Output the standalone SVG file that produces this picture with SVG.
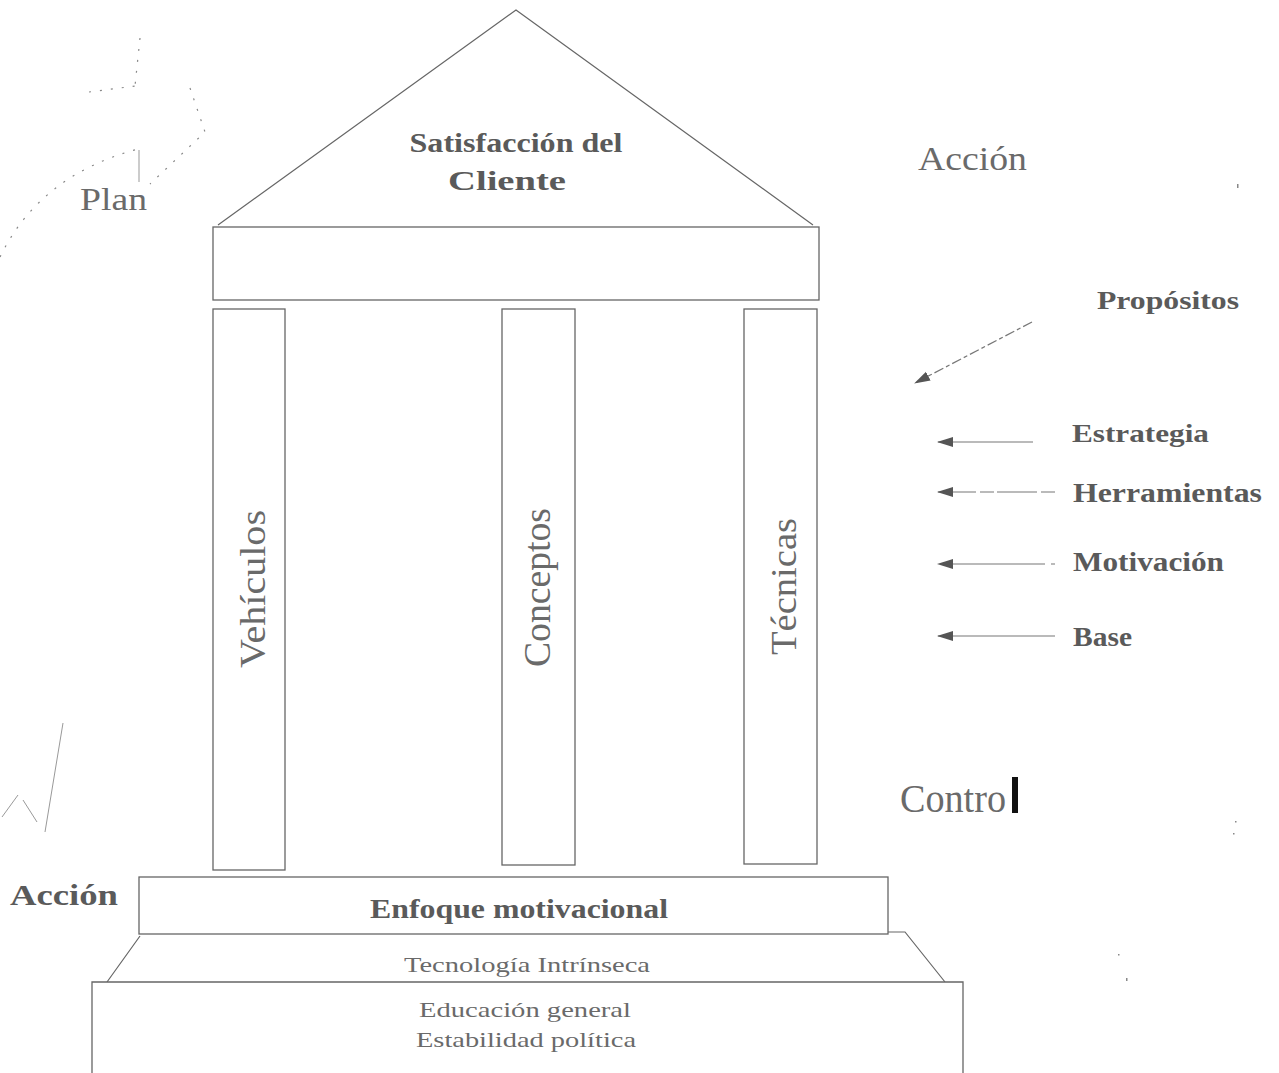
<svg xmlns="http://www.w3.org/2000/svg" width="1279" height="1073" viewBox="0 0 1279 1073">
<style>
.ln{fill:none;stroke:#666;stroke-width:1.2}
.box{fill:#fff;stroke:#666;stroke-width:1.3}
.dot{fill:none;stroke:#888;stroke-width:1.2;stroke-dasharray:2 9}
.sk{fill:none;stroke:#999;stroke-width:1}
.b{font-family:"Liberation Serif",serif;font-weight:bold;fill:#5a5a5a}
.r{font-family:"Liberation Serif",serif;fill:#6a6a6a}
.arr{fill:none;stroke:#777;stroke-width:1.2}
</style>
<defs>
<marker id="ah" markerWidth="16" markerHeight="12" refX="15" refY="6" orient="auto" markerUnits="userSpaceOnUse">
<path d="M16,6 L0,1 L0,11 Z" fill="#555"/>
</marker>
</defs>
<rect width="1279" height="1073" fill="#fff"/>

<g id="plan-scribble">
<path class="dot" d="M0,257 Q40,175 138,149"/>
<path class="sk" d="M139,150 L139,182"/>
<path class="dot" d="M140,38 L135,86 M89,92 L135,86"/>
<path class="dot" d="M190,88 L205,132 L150,184"/>
</g>
<g id="check-scribble">
<path class="sk" d="M63,723 L45,832"/>
<path class="sk" d="M2,817 L18,795"/>
<path class="sk" d="M23,800 L37,822"/>
</g>
<g id="specks" fill="#888">
<rect x="1237" y="184" width="1.5" height="4"/>
<rect x="1235" y="821" width="1.5" height="1.5"/>
<rect x="1233" y="833" width="1.5" height="1.5"/>
<rect x="1118" y="954" width="1.5" height="1.5"/>
<rect x="1126" y="978" width="1.5" height="3"/>
</g>

<g id="roof">
<path class="ln" d="M218,225 L516,10 L813,225"/>
<text class="b" x="516" y="152" font-size="28" text-anchor="middle" textLength="213" lengthAdjust="spacingAndGlyphs">Satisfacción del</text>
<text class="b" x="507" y="190" font-size="28" text-anchor="middle" textLength="118" lengthAdjust="spacingAndGlyphs">Cliente</text>
</g>
<g id="entablature">
<rect class="box" x="213" y="227" width="606" height="73"/>
</g>
<g id="col-vehiculos">
<rect class="box" x="213" y="309" width="72" height="561"/>
<text class="r" transform="translate(265,668) rotate(-90)" font-size="36" textLength="158" lengthAdjust="spacingAndGlyphs">Vehículos</text>
</g>
<g id="col-conceptos">
<rect class="box" x="502" y="309" width="73" height="556"/>
<text class="r" transform="translate(550,667) rotate(-90)" font-size="38" textLength="159" lengthAdjust="spacingAndGlyphs">Conceptos</text>
</g>
<g id="col-tecnicas">
<rect class="box" x="744" y="309" width="73" height="555"/>
<text class="r" transform="translate(796,655) rotate(-90)" font-size="36" textLength="137" lengthAdjust="spacingAndGlyphs">Técnicas</text>
</g>
<g id="enfoque">
<rect class="box" x="139" y="877" width="749" height="57"/>
<text class="b" x="519" y="918" font-size="28" text-anchor="middle" textLength="298" lengthAdjust="spacingAndGlyphs">Enfoque motivacional</text>
</g>
<g id="tecnologia">
<path class="ln" d="M140,936 L107,982 M888,932 L905,932 L945,982"/>
<text class="r" x="527" y="972" font-size="22" text-anchor="middle" textLength="246" lengthAdjust="spacingAndGlyphs" fill="#555">Tecnología Intrínseca</text>
</g>
<g id="base-block">
<path class="box" d="M92,1073 L92,982 L963,982 L963,1073"/>
<text class="r" x="525" y="1017" font-size="22" text-anchor="middle" textLength="212" lengthAdjust="spacingAndGlyphs" fill="#555">Educación general</text>
<text class="r" x="526" y="1047" font-size="22" text-anchor="middle" textLength="220" lengthAdjust="spacingAndGlyphs" fill="#555">Estabilidad política</text>
</g>

<g id="labels">
<text class="r" x="80" y="210" font-size="32" textLength="67" lengthAdjust="spacingAndGlyphs">Plan</text>
<text class="r" x="918" y="170" font-size="33" textLength="109" lengthAdjust="spacingAndGlyphs">Acción</text>
<text class="b" x="10" y="905" font-size="30" textLength="108" lengthAdjust="spacingAndGlyphs">Acción</text>
<text class="r" x="900" y="812" font-size="40" textLength="106" lengthAdjust="spacingAndGlyphs">Contro</text>
<rect x="1012" y="777" width="6" height="36" fill="#111"/>
</g>
<g id="right-labels">
<text class="b" x="1097" y="309" font-size="26" textLength="142" lengthAdjust="spacingAndGlyphs">Propósitos</text>
<text class="b" x="1072" y="442" font-size="26" textLength="137" lengthAdjust="spacingAndGlyphs">Estrategia</text>
<text class="b" x="1073" y="502" font-size="27" textLength="189" lengthAdjust="spacingAndGlyphs">Herramientas</text>
<text class="b" x="1073" y="571" font-size="27" textLength="151" lengthAdjust="spacingAndGlyphs">Motivación</text>
<text class="b" x="1073" y="646" font-size="27" textLength="59" lengthAdjust="spacingAndGlyphs">Base</text>
</g>

<g id="connectors">
<line class="arr" x1="1032" y1="322" x2="915" y2="383" stroke-dasharray="10 3 4 3" marker-end="url(#ah)"/>
<line class="arr" x1="1033" y1="442" x2="938" y2="442" marker-end="url(#ah)"/>
<line class="arr" x1="1055" y1="492" x2="938" y2="492" stroke-dasharray="14 4 40 3" marker-end="url(#ah)"/>
<line class="arr" x1="1055" y1="564" x2="938" y2="564" stroke-dasharray="4 6 100 0" marker-end="url(#ah)"/>
<line class="arr" x1="1055" y1="636" x2="938" y2="636" marker-end="url(#ah)"/>
</g>
</svg>
